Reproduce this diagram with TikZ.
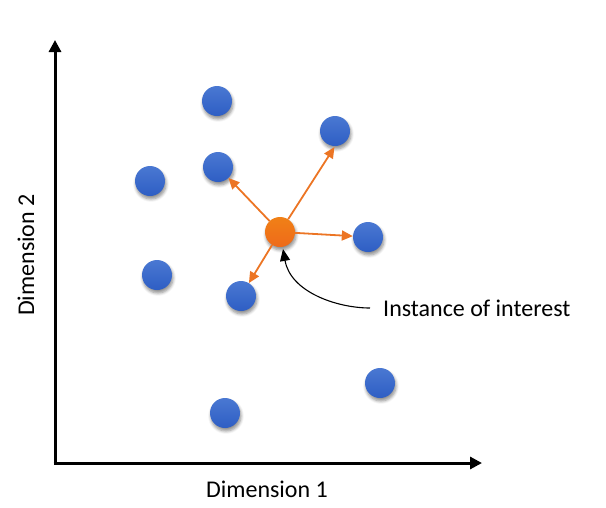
\documentclass[tikz,border=0pt]{standalone}
\usepackage{fontspec}
\setmainfont{Carlito}
\usetikzlibrary{arrows.meta,shadows.blur}
\definecolor{ptblue}{HTML}{2E5EC4}
\definecolor{ptblueL}{HTML}{4A78D2}
\definecolor{ptorange}{HTML}{EE6A1A}
\definecolor{arrorange}{HTML}{EC7524}
\begin{document}
\begin{tikzpicture}[x=1pt,y=-1pt,
  pt/.style={circle,minimum size=30pt,inner sep=0pt,
    blur shadow={shadow xshift=1pt,shadow yshift=-3pt,shadow blur steps=6,shadow opacity=45,shadow blur radius=3pt}},
  bluept/.style={pt,top color=ptblueL,bottom color=ptblue},
  orpt/.style={pt,top color=ptorange!85!yellow,bottom color=ptorange},
  nb/.style={draw=arrorange,line width=1.8pt,-{Triangle[length=11pt,width=10pt]}},
  axis/.style={line width=3pt,-{Triangle[length=12pt,width=12pt]}},
  lbl/.style={font=\fontsize{24}{28}\selectfont,inner sep=0pt}]
\useasboundingbox (0,0) rectangle (606,507);
\node[bluept] (b1) at (217,101) {};
\node[bluept] (b2) at (335,131) {};
\node[bluept] (b3) at (150,181) {};
\node[bluept] (b4) at (218,167) {};
\node[bluept] (b5) at (368,237) {};
\node[bluept] (b6) at (157,275) {};
\node[bluept] (b7) at (241,296) {};
\node[bluept] (b8) at (380,383) {};
\node[bluept] (b9) at (225,413) {};
\node[orpt] (o) at (280,232) {};
\draw[nb] (o) -- (b4);
\draw[nb,shorten >=1pt] (o) -- (b2.south);
\draw[nb] (o) -- (b5);
\draw[nb] (o) -- (b7);
\node[lbl,anchor=west] (txt) at (383,308) {Instance of interest};
\draw[line width=1.1pt,-{Triangle[length=12pt,width=10pt]},shorten >=2pt,shorten <=13pt] (txt.west) to[out=180,in=-80] (o);
\coordinate (orig) at (55,463);
\coordinate (ytop) at (55,40);
\coordinate (xend) at (482,463);
\draw[axis] ([yshift=-1.5pt]orig) -- (ytop);
\draw[axis] ([xshift=-1.5pt]orig) -- (xend);
\node[lbl] (xl) at (267,489) {Dimension 1};
\node[lbl,rotate=90] (yl) at (26,255) {Dimension 2};
\end{tikzpicture}
\end{document}
